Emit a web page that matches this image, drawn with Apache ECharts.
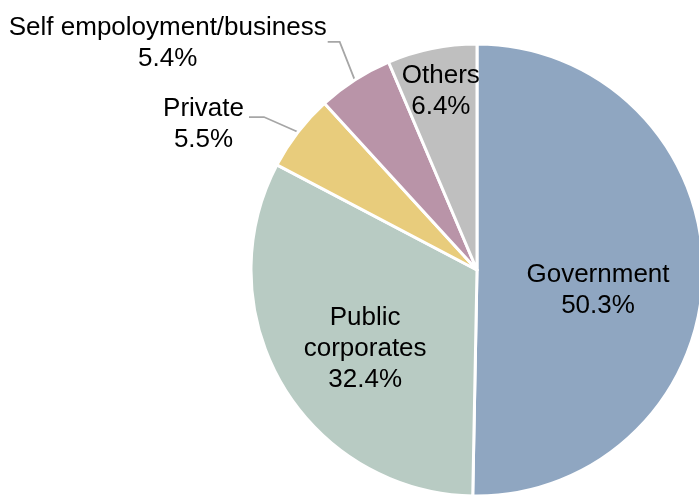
<!DOCTYPE html>
<html>
<head>
<meta charset="utf-8">
<script src="https://cdn.jsdelivr.net/npm/echarts@6/dist/echarts.min.js"></script>
<style>
  html, body { margin: 0; padding: 0; background: #ffffff; }
  #chart { width: 699px; height: 496px; }
</style>
</head>
<body>
<div id="chart"></div>
<script>
// Employment sectors, share of total (%)
const categories = ['Government', 'Public\ncorporates', 'Private', 'Self empoloyment/business', 'Others'];
const shares = [50.3, 32.4, 5.5, 5.4, 6.4];
const colors = ['#8FA6C1', '#B8CBC3', '#E8CC7C', '#B994A8', '#BFBFBF'];

// Label placement per slice: inside slices get a nudge; the two narrow ones sit
// outside with a bent leader (elbow offset from the slice edge, then a short run left)
const labelPlacement = [
  { position: 'inside', dx: 5, dy: 19 },
  { position: 'inside', dx: -12, dy: 20 },
  { position: 'outside', elbow: [-34, -15], run: 15, gap: 5, shiftY: 7 },
  { position: 'outside', elbow: [-15, -38], run: 12, gap: 1, shiftY: 1 },
  { position: 'inside', dx: -13, dy: -65 }
];

const FONT = '"Liberation Sans", Arial, sans-serif';

const data = categories.map((name, i) => {
  const p = labelPlacement[i];
  const item = {
    name: name,
    value: shares[i],
    itemStyle: { color: colors[i] },
    label: { position: p.position }
  };
  if (p.position === 'outside') {
    item.labelLine = {
      show: true,
      length: 20,
      length2: 10,
      lineStyle: { color: '#A6A6A6', width: 1.8 }
    };
  } else {
    item.labelLine = { show: false };
  }
  return item;
});

const chart = echarts.init(document.getElementById('chart'), null, { renderer: 'canvas' });
chart.setOption({
  backgroundColor: '#ffffff',
  animation: false,
  series: [{
    type: 'pie',
    center: [477, 270],
    radius: 226,
    startAngle: 90,
    clockwise: true,
    avoidLabelOverlap: false,
    itemStyle: { borderColor: '#ffffff', borderWidth: 3 },
    label: {
      show: true,
      formatter: (p) => p.name.split('\n').map(s => '{t|' + s + '}').join('\n') + '\n{t|' + p.value.toFixed(1) + '%}',
      rich: {
        t: {
          fontFamily: FONT,
          fontSize: 26,
          lineHeight: 31,
          color: '#000000',
          align: 'center'
        }
      }
    },
    labelLayout: (params) => {
      const p = labelPlacement[params.dataIndex];
      if (p.position === 'inside') return { dx: p.dx, dy: p.dy };
      const pts = params.labelLinePoints;
      if (!pts) return {};
      // start the leader on the slice edge, bend at the elbow, run left to the text
      const start = pts[0];
      const bend = [start[0] + p.elbow[0], start[1] + p.elbow[1]];
      const end = [bend[0] - p.run, bend[1]];
      return {
        x: end[0] - p.gap,
        y: end[1] + p.shiftY,
        align: 'right',
        verticalAlign: 'middle',
        labelLinePoints: [start, bend, end]
      };
    },
    data: data
  }]
});
</script>
</body>
</html>
